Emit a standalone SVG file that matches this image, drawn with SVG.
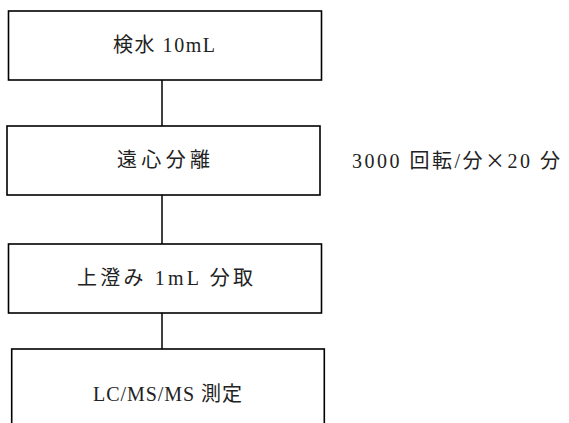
<svg xmlns="http://www.w3.org/2000/svg" width="569" height="423" viewBox="0 0 569 423">
<style>
.box{fill:#fff;stroke:#000;stroke-width:1.6}
.lbl{font-family:"Liberation Serif","Noto Sans CJK JP",serif;font-size:20px;fill:#222}
.cjk{font-family:"Noto Sans CJK JP",sans-serif}
.conn{stroke:#000;stroke-width:1.5;fill:none}
</style>
<rect width="569" height="423" fill="#fff"/>
<g id="connectors">
<line class="conn" x1="162" y1="80" x2="162" y2="126"/>
<line class="conn" x1="162" y1="195" x2="162" y2="244"/>
<line class="conn" x1="162" y1="313" x2="162" y2="349"/>
</g>
<g id="node1">
<rect class="box" x="8.5" y="11" width="313" height="69"/>
<text class="lbl" x="113" y="52" textLength="102" lengthAdjust="spacing">検水 10mL</text>
</g>
<g id="node2">
<rect class="box" x="7" y="126" width="313" height="69"/>
<text class="lbl" x="117" y="167" textLength="93" lengthAdjust="spacing">遠心分離</text>
</g>
<g id="note">
<text class="lbl" x="352" y="168" textLength="208" lengthAdjust="spacing">3000 回転/分<tspan class="cjk">×</tspan>20 分</text>
</g>
<g id="node3">
<rect class="box" x="8.5" y="244" width="313" height="69"/>
<text class="lbl" x="77" y="285" textLength="176" lengthAdjust="spacing">上澄み 1mL 分取</text>
</g>
<g id="node4">
<rect class="box" x="11.7" y="349" width="312.6" height="100"/>
<text class="lbl" x="93" y="401" textLength="149" lengthAdjust="spacing">LC/MS/MS 測定</text>
</g>
</svg>
